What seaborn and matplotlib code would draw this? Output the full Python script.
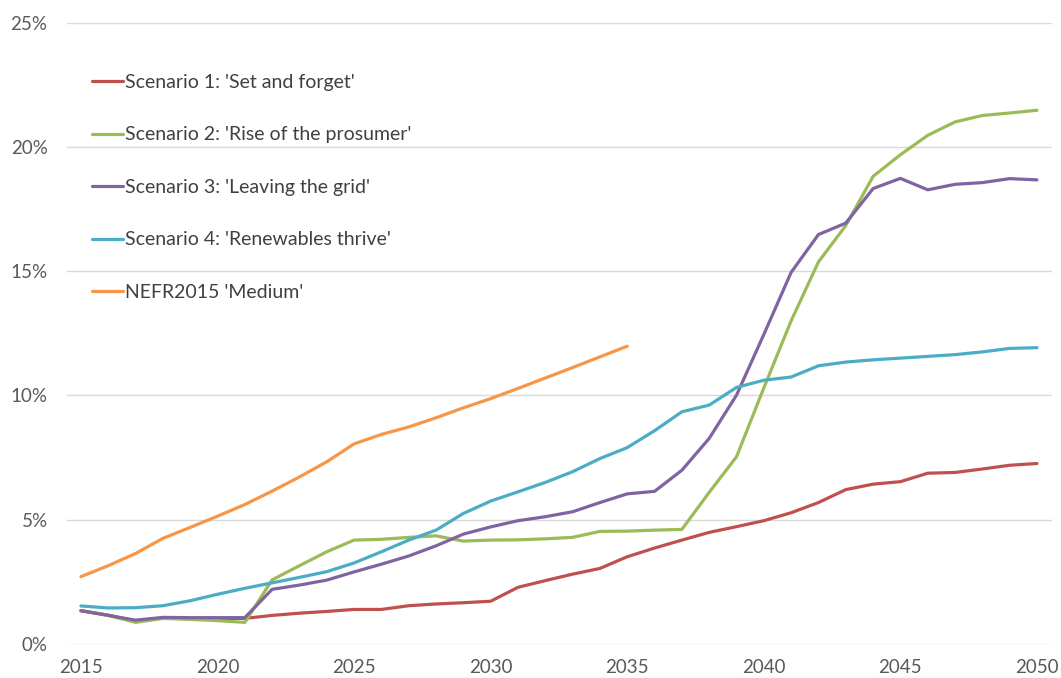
import matplotlib
matplotlib.use('Agg')
import matplotlib.pyplot as plt
from matplotlib.ticker import PercentFormatter
import seaborn as sns
import pandas as pd

### Data ###
YEARS = list(range(2015, 2051))

SCENARIO_1 = [1.34, 1.16, 0.92, 1.04, 1.02, 1.02, 1.03, 1.15, 1.24, 1.31, 1.39,
              1.39, 1.54, 1.61, 1.66, 1.72, 2.28, 2.55, 2.81, 3.04, 3.51,
              3.86, 4.18, 4.49, 4.72, 4.96, 5.28, 5.69, 6.21, 6.43, 6.53,
              6.87, 6.90, 7.04, 7.19, 7.26]
SCENARIO_2 = [1.34, 1.15, 0.87, 1.03, 0.99, 0.94, 0.87, 2.58, 3.15, 3.71, 4.18,
              4.21, 4.29, 4.35, 4.14, 4.18, 4.19, 4.23, 4.29, 4.53, 4.54,
              4.58, 4.61, 6.10, 7.53, 10.30, 13.0, 15.37, 16.83, 18.81, 19.68,
              20.46, 21.00, 21.26, 21.36, 21.47]
SCENARIO_3 = [1.34, 1.15, 0.96, 1.07, 1.06, 1.06, 1.06, 2.20, 2.37, 2.57, 2.90,
              3.21, 3.54, 3.95, 4.42, 4.71, 4.96, 5.12, 5.32, 5.69, 6.04,
              6.14, 6.99, 8.27, 10.01, 12.45, 14.95, 16.47, 16.93, 18.32, 18.73,
              18.27, 18.49, 18.56, 18.72, 18.67]
SCENARIO_4 = [1.53, 1.45, 1.46, 1.54, 1.74, 2.00, 2.24, 2.46, 2.68, 2.91, 3.26,
              3.71, 4.18, 4.58, 5.25, 5.75, 6.12, 6.50, 6.93, 7.46, 7.90,
              8.58, 9.34, 9.61, 10.32, 10.61, 10.74, 11.19, 11.34, 11.43, 11.50,
              11.57, 11.64, 11.75, 11.89, 11.92]
NEFR_YEARS = list(range(2015, 2036))
NEFR_MEDIUM = [2.71, 3.15, 3.64, 4.25, 4.69, 5.14, 5.61, 6.15, 6.72, 7.33, 8.05,
               8.43, 8.73, 9.10, 9.50, 9.87, 10.28, 10.70, 11.12, 11.55, 11.98]

LABELS = ["Scenario 1: 'Set and forget'",
          "Scenario 2: 'Rise of the prosumer'",
          "Scenario 3: 'Leaving the grid'",
          "Scenario 4: 'Renewables thrive'",
          "NEFR2015 'Medium'"]
COLORS = ["#C0504D", "#9BBB59", "#8064A2", "#4BACC6", "#F79646"]

X_TICKS = [2015, 2020, 2025, 2030, 2035, 2040, 2045, 2050]
Y_TICKS = [0, 5, 10, 15, 20, 25]

### Long table for seaborn ###
frames = []
for label, xs, ys in zip(LABELS,
                         [YEARS, YEARS, YEARS, YEARS, NEFR_YEARS],
                         [SCENARIO_1, SCENARIO_2, SCENARIO_3, SCENARIO_4, NEFR_MEDIUM]):
    frames.append(pd.DataFrame({'year': xs, 'share': ys, 'series': label}))
df = pd.concat(frames, ignore_index=True)

sns.set_style('white')
plt.rcParams['font.family'] = ['Lato', 'DejaVu Sans']

fig = plt.figure(figsize=(10.61, 6.78), dpi=100)
ax = fig.add_axes([67 / 1061, 1 - 644 / 678, 985 / 1061, 621.5 / 678])

sns.lineplot(data=df, x='year', y='share', hue='series', hue_order=LABELS,
             palette=COLORS, linewidth=2.3, ax=ax, legend=True)

ax.set_xlim(2014.49, 2050.55)
ax.set_ylim(0, 25)
ax.set_xticks(X_TICKS)
ax.set_yticks(Y_TICKS)
ax.yaxis.set_major_formatter(PercentFormatter(decimals=0))
ax.grid(axis='y', color='#D9D9D9', linewidth=1)
ax.grid(axis='x', visible=False)
for s in ax.spines.values():
    s.set_visible(False)
ax.tick_params(axis='both', length=0, labelsize=13.5, colors='#595959')
ax.tick_params(axis='x', pad=11)
ax.tick_params(axis='y', pad=14)
ax.set_xlabel('')
ax.set_ylabel('')

ax.legend(loc='upper left', bbox_to_anchor=(92 / 1061, 1 - 74 / 678),
          bbox_transform=fig.transFigure, frameon=False, fontsize=14,
          handlelength=1.6, handletextpad=0.1, labelspacing=1.825,
          borderpad=0, borderaxespad=0, labelcolor='#404040')

fig.savefig('out.png', dpi=100)
plt.close()
